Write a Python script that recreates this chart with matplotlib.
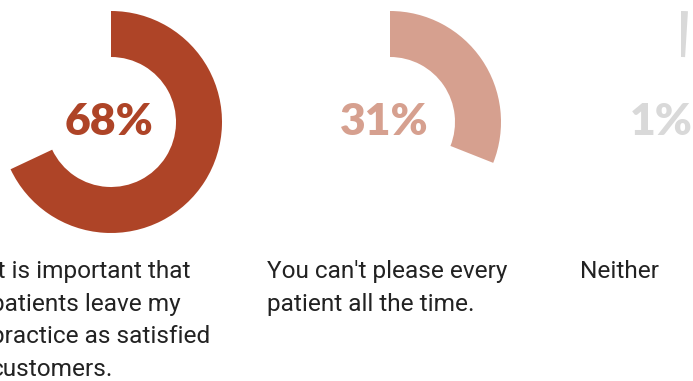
import matplotlib.pyplot as plt

# Survey shares and answer labels
shares = [68, 31, 1]
answers = [
    "It is important that\npatients leave my\npractice as satisfied\ncustomers.",
    "You can't please every\npatient all the time.",
    "Neither",
]
colors = ["#AE4427", "#D6A08F", "#D9D9D9"]

# Layout in pixel units (y upward)
centers_x = [111, 390, 681]
pct_x = [109, 384, 661]
center_y = 381 - 122
outer_r = 111
inner_r = 65
label_x = [-9, 267, 580]
label_y = 381 - 260

fig = plt.figure(figsize=(6.93, 3.81), dpi=100)
ax = fig.add_axes([0, 0, 1, 1])

for share, answer, color, cx, px, lx in zip(shares, answers, colors,
                                            centers_x, pct_x, label_x):
    ax.pie([share, 100 - share], colors=[color, "none"], startangle=90,
           counterclock=False, center=(cx, center_y), radius=outer_r,
           wedgeprops=dict(width=outer_r - inner_r, linewidth=0),
           frame=True)
    ax.text(px, center_y, f"{share}%", color=color, fontsize=32,
            fontweight="heavy", family="Lato", ha="center", va="center")
    ax.text(lx, label_y, answer, color="#222222", fontsize=17.6,
            family="Roboto", ha="left", va="top", linespacing=1.53)

ax.set_xlim(0, 693)
ax.set_ylim(0, 381)
ax.set_aspect("equal")
ax.axis("off")

fig.savefig("out.png", dpi=100)
